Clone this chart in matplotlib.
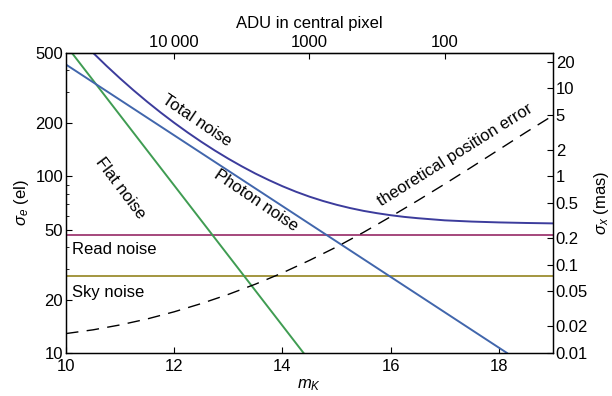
import numpy as np
import matplotlib.pyplot as plt

plt.rcParams['font.family'] = ['Liberation Sans', 'DejaVu Sans']
plt.rcParams['mathtext.fontset'] = 'custom'
plt.rcParams['mathtext.rm'] = 'Liberation Sans'
plt.rcParams['mathtext.it'] = 'Liberation Sans:italic'

# noise components in electrons vs. K magnitude
mag_photon = [10.0, 18.15]
photon_noise = [430, 10]
mag_flat = [10.11, 14.39]
flat_noise = [500, 10]
read_noise = 46.4
sky_noise = 27.2

mag = [10.45, 10.75, 11.0, 11.25, 11.5, 11.75, 12.0, 12.25, 12.5, 12.75, 13.0,
       13.25, 13.5, 13.75, 14.0, 14.25, 14.5, 14.75, 15.0, 15.25, 15.5, 15.75,
       16.0, 16.25, 16.5, 17.0, 17.5, 18.0, 18.5, 19.0]
total_noise = [518.6, 422.3, 358.8, 307.1, 264.8, 230.0, 201.2, 177.2, 157.1, 140.2, 126.0,
               114.0, 103.8, 95.3, 88.0, 81.9, 76.8, 72.6, 69.1, 66.2, 63.8, 61.9,
               60.3, 59.0, 58.0, 56.4, 55.5, 54.9, 54.5, 54.2]

# theoretical position error in mas
mag_pos = [10.0, 10.5, 11.0, 11.5, 12.0, 12.5, 13.0, 13.5, 14.0, 14.5,
           15.0, 15.5, 16.0, 16.5, 17.0, 17.5, 18.0, 18.5, 19.0]
pos_error = [0.0166, 0.0183, 0.0208, 0.0243, 0.0293, 0.0363, 0.0461, 0.0602, 0.0808, 0.112,
             0.159, 0.233, 0.350, 0.533, 0.821, 1.28, 2.01, 3.16, 4.90]

left_ticks = [10, 20, 50, 100, 200, 500]
right_ticks = [0.01, 0.02, 0.05, 0.1, 0.2, 0.5, 1, 2, 5, 10, 20]
right_labels = ['0.01', '0.02', '0.05', '0.1', '0.2', '0.5', '1', '2', '5', '10', '20']
adu_ticks = [10000, 1000, 100]
adu_labels = ['10\u2009000', '1000', '100']

c_total = '#3c3c9c'
c_photon = '#4166ac'
c_flat = '#3f9c52'
c_read = '#a5477c'
c_sky = '#a3963f'

fs = 12
W, H = 612, 396
fig = plt.figure(figsize=(W / 100, H / 100), dpi=100)
ax = fig.add_axes([66 / W, 1 - 353 / H, 487 / W, 300 / H])

lw = 1.4
ax.axhline(read_noise, color=c_read, lw=lw)
ax.axhline(sky_noise, color=c_sky, lw=lw)
ax.plot(mag_flat, flat_noise, color=c_flat, lw=lw)
ax.plot(mag_photon, photon_noise, color=c_photon, lw=lw)
ax.plot(mag, total_noise, color=c_total, lw=lw)

ax.set_yscale('log')
ax.set_xlim(10, 19)
ax.set_ylim(10, 500)
ax.set_yticks(left_ticks)
ax.set_yticklabels([str(t) for t in left_ticks])
ax.set_xticks([10, 12, 14, 16, 18])
ax.set_xticks(np.arange(10, 19.01, 0.5), minor=True)
ax.tick_params(which='both', direction='in', labelsize=fs, top=False, right=False)
ax.tick_params(which='major', length=4, width=0.8)
ax.tick_params(which='minor', length=2, width=0.6)
ax.tick_params(axis='x', pad=4)
ax.tick_params(axis='y', pad=2)
ax.set_xlabel(r'$m_K$', fontsize=fs, labelpad=3)
ax.set_ylabel(r'$\sigma_e$ (el)', fontsize=fs, labelpad=3)

ax2 = ax.twinx()
ax2.set_yscale('log')
ax2.set_ylim(0.01, 25)
ax2.plot(mag_pos, pos_error, color='black', lw=1.0, dashes=(9, 6))
ax2.set_yticks(right_ticks)
ax2.set_yticklabels(right_labels)
ax2.minorticks_off()
ax2.tick_params(direction='in', length=4, width=0.8, labelsize=fs, pad=2)
ax2.set_ylabel(r'$\sigma_x$ (mas)', fontsize=fs, labelpad=3)

top = ax.secondary_xaxis('top', functions=(lambda m: 10 ** (4 - (m - 12) / 2.5),
                                           lambda a: 12 + 2.5 * (4 - np.log10(a))))
top.set_xticks(adu_ticks)
top.set_xticklabels(adu_labels)
top.minorticks_off()
top.tick_params(direction='in', length=4, width=0.8, labelsize=fs, pad=2)
top.set_xlabel('ADU in central pixel', fontsize=fs, labelpad=5)

for a in (ax, ax2):
    for s in a.spines.values():
        s.set_linewidth(0.9)


def label(x, y, s, rot=0, ha='center'):
    fig.text(x / W, 1 - y / H, s, fontsize=fs, rotation=rot, ha=ha, va='center',
             rotation_mode='anchor')


label(197, 121, 'Total noise', -34)
label(256, 201, 'Photon noise', -34)
label(120, 188, 'Flat noise', -53)
label(72, 249, 'Read noise', ha='left')
label(72, 292, 'Sky noise', ha='left')
label(455, 155, 'theoretical position error', 32)

fig.savefig('out.png', dpi=100)
